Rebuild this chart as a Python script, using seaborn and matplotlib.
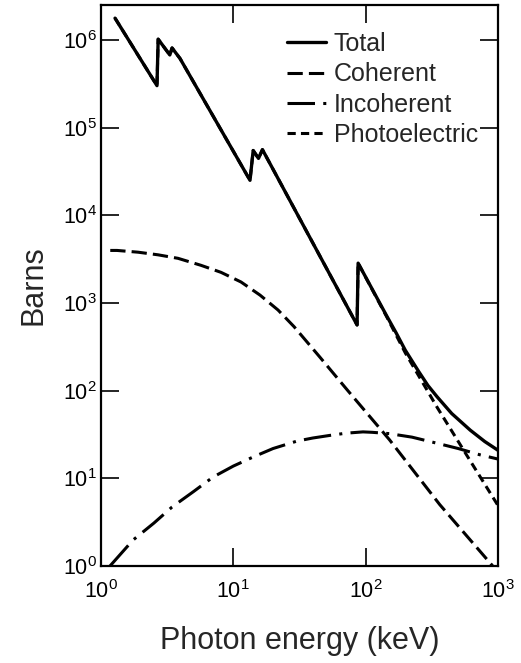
import numpy as np
import pandas as pd
import matplotlib
matplotlib.use("Agg")
import matplotlib.pyplot as plt
import seaborn as sns

# values, as log10(keV) and log10(barns)
total_logx = [0.106, 0.423, 0.432, 0.52, 0.537, 0.597, 1.126, 1.15, 1.19, 1.22,
              1.935, 1.943, 2.16, 2.23, 2.30, 2.40, 2.47, 2.54, 2.65, 2.79, 2.90, 3.0]
total_logy = [6.25, 5.48, 6.01, 5.83, 5.91, 5.79, 4.40, 4.74, 4.65, 4.75,
              2.75, 3.455, 2.85, 2.66, 2.46, 2.22, 2.06, 1.93, 1.74, 1.55, 1.42, 1.32]

coh_logx = [0.07, 0.121, 0.280, 0.431, 0.582, 0.756, 0.907, 1.058, 1.202, 1.338,
            1.459, 1.65, 1.86, 2.18, 2.56, 2.96]
coh_logy = [3.60, 3.60, 3.58, 3.55, 3.51, 3.43, 3.35, 3.24, 3.09, 2.92,
            2.73, 2.39, 2.01, 1.44, 0.70, 0.0]

inc_logx = [0.068, 0.242, 0.40, 0.537, 0.70, 0.847, 1.0, 1.149, 1.30, 1.481,
            1.60, 1.73, 1.85, 1.98, 2.05, 2.18, 2.35, 2.54, 2.70, 2.86, 3.0]
inc_logy = [0.0, 0.296, 0.49, 0.673, 0.85, 1.015, 1.14, 1.243, 1.34, 1.425,
            1.46, 1.49, 1.515, 1.53, 1.525, 1.51, 1.47, 1.40, 1.34, 1.27, 1.22]

photo_logx = [0.106, 0.423, 0.432, 0.52, 0.537, 0.597, 1.126, 1.15, 1.19, 1.22,
              1.935, 1.943, 2.16, 2.30, 2.54, 2.79, 3.0]
photo_logy = [6.25, 5.48, 6.01, 5.83, 5.91, 5.79, 4.40, 4.74, 4.65, 4.75,
              2.75, 3.455, 2.84, 2.43, 1.81, 1.20, 0.69]

x_ticks = [1, 10, 100, 1000]
y_ticks = [1, 10, 100, 1e3, 1e4, 1e5, 1e6]

sns.set_style("ticks")
plt.rcParams['font.family'] = ['Liberation Sans', 'DejaVu Sans']
plt.rcParams['mathtext.default'] = 'regular'

fig = plt.figure(figsize=(5.21, 6.63), dpi=100)
ax = fig.add_axes([101 / 521, (663 - 566) / 663, (498 - 101) / 521, (566 - 5) / 663])


def series(lx, ly):
    return pd.DataFrame({"E": 10 ** np.array(lx), "B": 10 ** np.array(ly)})


# photoelectric first, so the solid total covers it where they coincide
sns.lineplot(data=series(photo_logx, photo_logy), x="E", y="B", ax=ax,
             estimator=None, sort=False, color="black", lw=2.2,
             linestyle=(0, (2.7, 1.7)), label="Photoelectric")
sns.lineplot(data=series(coh_logx, coh_logy), x="E", y="B", ax=ax,
             estimator=None, sort=False, color="black", lw=2.2,
             linestyle=(0, (5, 2)), label="Coherent")
sns.lineplot(data=series(inc_logx, inc_logy), x="E", y="B", ax=ax,
             estimator=None, sort=False, color="black", lw=2.2,
             linestyle=(0, (9, 2.7, 1, 2.7)), label="Incoherent")
sns.lineplot(data=series(total_logx, total_logy), x="E", y="B", ax=ax,
             estimator=None, sort=False, color="black", lw=2.4,
             linestyle="-", label="Total")

ax.set_xscale("log")
ax.set_yscale("log")
ax.set_xlim(1, 1000)
ax.set_ylim(1, 10 ** 6.4)
ax.set_xticks(x_ticks)
ax.set_yticks(y_ticks)
ax.minorticks_off()

ax.tick_params(axis="both", which="major", direction="in", length=13, width=1.2,
               top=True, right=True, labelsize=15.5, colors="black")
ax.tick_params(axis="x", pad=10)
ax.tick_params(axis="y", pad=3)
for sp in ax.spines.values():
    sp.set_linewidth(1.6)
    sp.set_color("black")

ax.set_xlabel("Photon energy (keV)", fontsize=22, labelpad=17)
ax.set_ylabel("Barns", fontsize=22, labelpad=10)

handles, labels = ax.get_legend_handles_labels()
order = [labels.index(n) for n in ["Total", "Coherent", "Incoherent", "Photoelectric"]]
ax.legend([handles[i] for i in order], [labels[i] for i in order],
          loc="upper left", bbox_to_anchor=((287 - 101) / 397, 1 - 27 / 561),
          frameon=False, fontsize=18, handlelength=1.55, handletextpad=0.33,
          labelspacing=0.25, borderpad=0, borderaxespad=0)

fig.savefig("out.png", dpi=100)
